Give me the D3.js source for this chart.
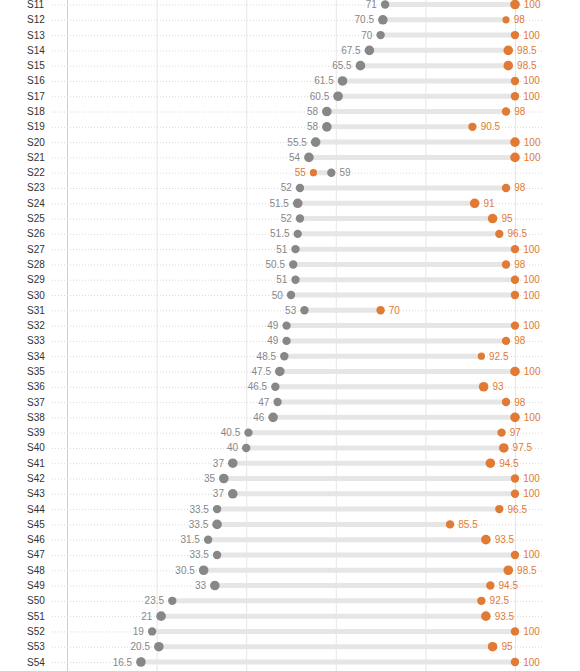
<!DOCTYPE html>
<html>
<head>
<meta charset="utf-8">
<script src="https://cdn.jsdelivr.net/npm/d3@7"></script>
<style>
  body { margin: 0; background: #fff; }
  svg { display: block; font-family: "Liberation Sans", Arial, sans-serif; }
</style>
</head>
<body>
<svg class="chart"></svg>
<script>
//Data
const categories = ['S11', 'S12', 'S13', 'S14', 'S15', 'S16', 'S17', 'S18', 'S19', 'S20',
  'S21', 'S22', 'S23', 'S24', 'S25', 'S26', 'S27', 'S28', 'S29', 'S30',
  'S31', 'S32', 'S33', 'S34', 'S35', 'S36', 'S37', 'S38', 'S39', 'S40',
  'S41', 'S42', 'S43', 'S44', 'S45', 'S46', 'S47', 'S48', 'S49', 'S50',
  'S51', 'S52', 'S53', 'S54'];
const grayValues = [71, 70.5, 70, 67.5, 65.5, 61.5, 60.5, 58, 58, 55.5,
  54, 59, 52, 51.5, 52, 51.5, 51, 50.5, 51, 50,
  53, 49, 49, 48.5, 47.5, 46.5, 47, 46, 40.5, 40,
  37, 35, 37, 33.5, 33.5, 31.5, 33.5, 30.5, 33, 23.5,
  21, 19, 20.5, 16.5];
const orangeValues = [100, 98, 100, 98.5, 98.5, 100, 100, 98, 90.5, 100,
  100, 55, 98, 91, 95, 96.5, 100, 98, 100, 100,
  70, 100, 98, 92.5, 100, 93, 98, 100, 97, 97.5,
  94.5, 100, 100, 96.5, 85.5, 93.5, 100, 98.5, 94.5, 92.5,
  93.5, 100, 95, 100];
//relative weight shown by dot size (1 small .. 3 large)
const grayWeight = [2, 3, 2, 3, 3, 3, 3, 3, 3, 3,
  3, 2, 2, 3, 2, 2, 2, 2, 2, 2,
  2, 2, 2, 2, 3, 2, 2, 3, 2, 2,
  3, 3, 3, 2, 3, 2, 2, 3, 3, 2,
  3, 2, 3, 3];
const orangeWeight = [3, 1, 2, 3, 3, 2, 2, 2, 2, 3,
  3, 1, 2, 3, 3, 2, 2, 2, 2, 2,
  2, 2, 2, 1, 3, 3, 2, 3, 2, 3,
  3, 2, 2, 2, 2, 3, 2, 3, 2, 2,
  3, 2, 3, 2];
const xTicks = [0, 20, 40, 60, 80, 100];

const width = 580;
const height = 671;

const grayColor = '#878787';
const orangeColor = '#e07a35';

const rows = categories.map((name, i) => ({
  name: name,
  gray: grayValues[i],
  orange: orangeValues[i],
  gw: grayWeight[i],
  ow: orangeWeight[i]
}));

const svg = d3.select('.chart').attr('width', width).attr('height', height);

const x = d3.scaleLinear().domain([0, 100]).range([67, 515]);
const y = d3.scalePoint().domain(categories).range([4.5, 662]);
const r = d3.scaleLinear().domain([1, 3]).range([3.6, 4.8]);

//Vertical grid lines
svg
  .selectAll('line.grid')
  .data(xTicks)
  .enter()
  .append('line')
  .attr('class', 'grid')
  .attr('x1', d => x(d) + 0.5)
  .attr('x2', d => x(d) + 0.5)
  .attr('y1', 0)
  .attr('y2', height)
  .attr('stroke', d => (d === 0 ? '#cfcfcf' : '#e6e6e6'))
  .attr('stroke-width', 1);

//Dotted row guides
svg
  .selectAll('line.row')
  .data(rows)
  .enter()
  .append('line')
  .attr('class', 'row')
  .attr('x1', 52)
  .attr('x2', 542)
  .attr('y1', d => y(d.name) + 0.5)
  .attr('y2', d => y(d.name) + 0.5)
  .attr('stroke', '#d9d9d9')
  .attr('stroke-width', 1)
  .attr('stroke-dasharray', '1,2');

//Row labels
svg
  .selectAll('text.cat')
  .data(rows)
  .enter()
  .append('text')
  .attr('class', 'cat')
  .attr('x', 27)
  .attr('y', d => y(d.name))
  .attr('dy', '0.35em')
  .attr('font-size', 10)
  .attr('fill', '#333')
  .text(d => d.name);

//Connecting bars
svg
  .selectAll('line.bar')
  .data(rows)
  .enter()
  .append('line')
  .attr('class', 'bar')
  .attr('x1', d => x(Math.min(d.gray, d.orange)))
  .attr('x2', d => x(Math.max(d.gray, d.orange)))
  .attr('y1', d => y(d.name))
  .attr('y2', d => y(d.name))
  .attr('stroke', '#e6e6e6')
  .attr('stroke-width', 5);

//Dots
const series = [
  { key: 'gray', w: 'gw', color: grayColor },
  { key: 'orange', w: 'ow', color: orangeColor }
];

series.forEach(s => {
  svg
    .selectAll('circle.' + s.key)
    .data(rows)
    .enter()
    .append('circle')
    .attr('class', s.key)
    .attr('cx', d => x(d[s.key]))
    .attr('cy', d => y(d.name))
    .attr('r', d => r(d[s.w]))
    .attr('fill', s.color);

  //value labels: lower value on the left, higher on the right
  svg
    .selectAll('text.' + s.key)
    .data(rows)
    .enter()
    .append('text')
    .attr('class', s.key)
    .attr('x', d => {
      const other = s.key === 'gray' ? d.orange : d.gray;
      const off = r(d[s.w]) + 4;
      return d[s.key] <= other ? x(d[s.key]) - off : x(d[s.key]) + off;
    })
    .attr('text-anchor', d => {
      const other = s.key === 'gray' ? d.orange : d.gray;
      return d[s.key] <= other ? 'end' : 'start';
    })
    .attr('y', d => y(d.name))
    .attr('dy', '0.35em')
    .attr('font-size', 10)
    .attr('fill', s.color)
    .text(d => d[s.key]);
});
</script>
</body>
</html>
